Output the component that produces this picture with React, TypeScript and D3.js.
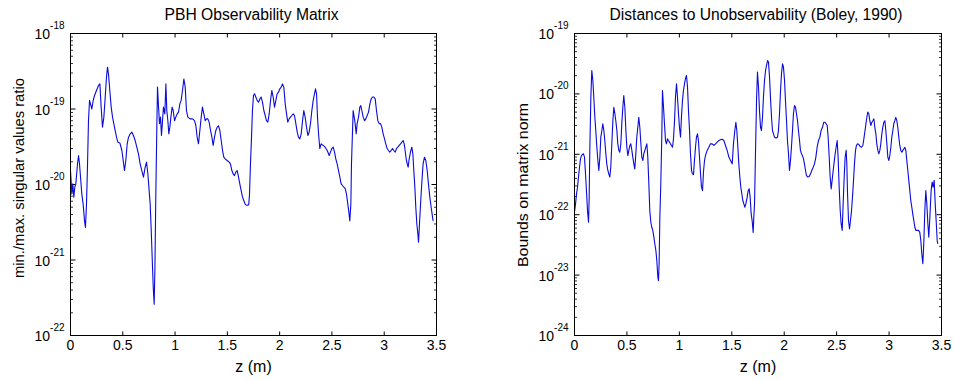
import React from "react";
import * as d3 from "d3";

// ---------- Data ----------
const leftTitle = "PBH Observability Matrix";
const rightTitle = "Distances to Unobservability (Boley, 1990)";
const xLabel = "z (m)";
const leftYLabel = "min./max. singular values ratio";
const rightYLabel = "Bounds on matrix norm";
const xTicks = [0, 0.5, 1, 1.5, 2, 2.5, 3, 3.5];
const leftDecades = [-22, -21, -20, -19, -18];
const rightDecades = [-24, -23, -22, -21, -20, -19];

const leftZ = [
  0, 0.013, 0.022, 0.032, 0.041, 0.051, 0.067, 0.077, 0.086, 0.096, 0.108, 0.121, 0.134, 0.143, 0.153, 0.163,
  0.172, 0.182, 0.191, 0.204, 0.217, 0.23, 0.242, 0.255, 0.268, 0.281, 0.293, 0.306, 0.319, 0.332, 0.344, 0.354,
  0.363, 0.376, 0.389, 0.402, 0.414, 0.427, 0.44, 0.453, 0.472, 0.491, 0.504, 0.516, 0.529, 0.542, 0.555, 0.571,
  0.587, 0.602, 0.618, 0.634, 0.65, 0.666, 0.682, 0.698, 0.714, 0.727, 0.74, 0.752, 0.762, 0.771, 0.781, 0.791,
  0.8, 0.807, 0.816, 0.826, 0.832, 0.842, 0.851, 0.861, 0.87, 0.88, 0.889, 0.902, 0.912, 0.921, 0.931, 0.94,
  0.95, 0.96, 0.972, 0.982, 0.995, 1.007, 1.02, 1.033, 1.046, 1.058, 1.071, 1.084, 1.097, 1.109, 1.122, 1.144,
  1.167, 1.186, 1.199, 1.211, 1.224, 1.237, 1.25, 1.262, 1.275, 1.288, 1.301, 1.313, 1.326, 1.339, 1.352, 1.364,
  1.377, 1.39, 1.403, 1.415, 1.428, 1.441, 1.454, 1.466, 1.479, 1.498, 1.517, 1.53, 1.543, 1.556, 1.568, 1.581,
  1.594, 1.607, 1.619, 1.632, 1.645, 1.658, 1.67, 1.683, 1.696, 1.705, 1.712, 1.721, 1.731, 1.74, 1.75, 1.76,
  1.772, 1.785, 1.798, 1.811, 1.823, 1.836, 1.849, 1.862, 1.874, 1.887, 1.9, 1.913, 1.925, 1.938, 1.951, 1.964,
  1.976, 1.989, 2.002, 2.015, 2.027, 2.04, 2.053, 2.066, 2.078, 2.091, 2.104, 2.117, 2.129, 2.142, 2.155, 2.168,
  2.18, 2.193, 2.206, 2.219, 2.231, 2.244, 2.257, 2.27, 2.282, 2.295, 2.308, 2.321, 2.333, 2.343, 2.353, 2.362,
  2.372, 2.384, 2.397, 2.416, 2.435, 2.455, 2.474, 2.486, 2.499, 2.512, 2.525, 2.537, 2.55, 2.563, 2.576, 2.588,
  2.601, 2.614, 2.627, 2.639, 2.652, 2.662, 2.671, 2.681, 2.687, 2.697, 2.703, 2.713, 2.722, 2.732, 2.741, 2.754,
  2.767, 2.776, 2.786, 2.799, 2.812, 2.824, 2.837, 2.85, 2.863, 2.875, 2.888, 2.901, 2.914, 2.926, 2.939, 2.952,
  2.965, 2.977, 2.99, 3.003, 3.015, 3.028, 3.041, 3.054, 3.066, 3.079, 3.092, 3.105, 3.118, 3.13, 3.143, 3.156,
  3.169, 3.181, 3.191, 3.2, 3.21, 3.22, 3.229, 3.239, 3.251, 3.264, 3.274, 3.283, 3.293, 3.302, 3.312, 3.322,
  3.328, 3.334, 3.344, 3.353, 3.363, 3.372, 3.385, 3.398, 3.411, 3.423, 3.436, 3.449, 3.462, 3.468,
];
const leftRatio = [
  1.53e-20, 7.5e-21, 1.02e-20, 6.8e-21, 9.2e-21, 1.02e-20, 1.88e-20, 2.42e-20, 1.88e-20, 1.25e-20, 7.5e-21, 5.5e-21, 3.3e-21, 2.7e-21, 5.5e-21, 1.88e-20,
  7.0e-20, 1.3e-19, 1.17e-19, 1.0e-19, 1.3e-19, 1.51e-19, 1.67e-19, 1.85e-19, 2.05e-19, 2.15e-19, 1.06e-19, 5.75e-20, 7.8e-20, 1.44e-19, 2.64e-19, 3.58e-19,
  2.92e-19, 1.76e-19, 1.06e-19, 7.8e-20, 6.4e-20, 5.2e-20, 4.24e-20, 3.64e-20, 3.55e-20, 2.82e-20, 2.08e-20, 1.53e-20, 2.08e-20, 3.46e-20, 4.24e-20, 4.69e-20,
  4.93e-20, 4.46e-20, 3.83e-20, 3.12e-20, 2.55e-20, 1.88e-20, 1.53e-20, 1.25e-20, 1.7e-20, 1.98e-20, 1.38e-20, 8.3e-21, 5.5e-21, 2.7e-21, 1.09e-21, 4.4e-22,
  2.6e-22, 7.3e-22, 7.5e-21, 6.4e-20, 1.95e-19, 1.06e-19, 6.4e-20, 7.8e-20, 4.46e-20, 7.0e-20, 1.06e-19, 8.6e-20, 2.15e-19, 9.55e-20, 7.0e-20, 4.69e-20,
  5.75e-20, 7.8e-20, 1.06e-19, 9.55e-20, 7.0e-20, 7.8e-20, 8.6e-20, 9.1e-20, 1.17e-19, 1.3e-19, 1.76e-19, 2.5e-19, 1.95e-19, 9.55e-20, 7.8e-20, 7.4e-20,
  7.4e-20, 7.0e-20, 6.0e-20, 4.24e-20, 3.46e-20, 5.2e-20, 7.8e-20, 1.06e-19, 8.6e-20, 7.0e-20, 7.4e-20, 7.4e-20, 6.7e-20, 5.2e-20, 4.24e-20, 3.29e-20,
  4.24e-20, 5.2e-20, 5.75e-20, 6.0e-20, 5.2e-20, 3.83e-20, 2.82e-20, 2.3e-20, 2.19e-20, 2.08e-20, 1.98e-20, 1.88e-20, 1.53e-20, 1.38e-20, 1.31e-20, 1.46e-20,
  1.53e-20, 1.25e-20, 1.02e-20, 8.3e-21, 6.8e-21, 6.1e-21, 5.5e-21, 5.3e-21, 5.3e-21, 5.5e-21, 7.5e-21, 1.88e-20, 4.24e-20, 9.55e-20, 1.51e-19, 1.59e-19,
  1.44e-19, 1.3e-19, 1.23e-19, 1.36e-19, 1.44e-19, 1.23e-19, 9.55e-20, 8.2e-20, 7.0e-20, 6.7e-20, 8.6e-20, 1.3e-19, 1.76e-19, 1.44e-19, 1.06e-19, 1.3e-19,
  1.59e-19, 1.67e-19, 1.85e-19, 1.95e-19, 2.15e-19, 1.95e-19, 1.17e-19, 8.6e-20, 6.7e-20, 7.4e-20, 7.8e-20, 8.2e-20, 8.6e-20, 8.2e-20, 6.4e-20, 4.93e-20,
  4.24e-20, 4.03e-20, 4.69e-20, 7.0e-20, 9.55e-20, 7.8e-20, 5.75e-20, 4.46e-20, 4.93e-20, 6.4e-20, 9.55e-20, 1.3e-19, 1.59e-19, 1.85e-19, 1.59e-19, 7.8e-20,
  4.69e-20, 3.0e-20, 3.46e-20, 3.29e-20, 3.12e-20, 2.82e-20, 2.42e-20, 2.68e-20, 3.0e-20, 3.12e-20, 2.68e-20, 2.19e-20, 1.88e-20, 1.53e-20, 1.25e-20, 1.02e-20,
  9.7e-21, 9.2e-21, 8.8e-21, 7.5e-21, 5.5e-21, 4.3e-21, 3.3e-21, 5.5e-21, 1.88e-20, 5.2e-20, 9.55e-20, 7.8e-20, 6.4e-20, 4.69e-20, 6.4e-20, 7.8e-20,
  1.06e-19, 1.11e-19, 9.55e-20, 7.8e-20, 7.0e-20, 7.4e-20, 8.2e-20, 9.1e-20, 1.17e-19, 1.36e-19, 1.44e-19, 1.44e-19, 1.36e-19, 9.55e-20, 7.0e-20, 6.4e-20,
  6.4e-20, 5.75e-20, 4.69e-20, 4.03e-20, 3.46e-20, 3.0e-20, 2.82e-20, 2.68e-20, 2.82e-20, 3.0e-20, 2.82e-20, 2.68e-20, 3.0e-20, 3.12e-20, 3.29e-20, 3.46e-20,
  3.64e-20, 3.83e-20, 3.46e-20, 2.82e-20, 2.19e-20, 1.88e-20, 1.7e-20, 2.19e-20, 2.68e-20, 3.12e-20, 2.55e-20, 1.53e-20, 9.2e-21, 5.0e-21, 3.0e-21, 2.22e-21,
  1.72e-21, 2.46e-21, 4.5e-21, 7.5e-21, 1.25e-20, 1.88e-20, 2.3e-20, 2.08e-20, 1.53e-20, 1.02e-20, 6.8e-21, 5.0e-21, 3.7e-21, 3.3e-21,
];

const rightZ = [
  0, 0.01, 0.019, 0.029, 0.038, 0.048, 0.057, 0.067, 0.076, 0.086, 0.095, 0.105, 0.114, 0.124, 0.134, 0.14,
  0.146, 0.156, 0.165, 0.175, 0.184, 0.194, 0.203, 0.213, 0.223, 0.232, 0.242, 0.251, 0.261, 0.27, 0.28, 0.289,
  0.299, 0.308, 0.318, 0.327, 0.337, 0.346, 0.356, 0.366, 0.375, 0.385, 0.394, 0.404, 0.413, 0.423, 0.432, 0.442,
  0.451, 0.461, 0.47, 0.48, 0.49, 0.499, 0.509, 0.518, 0.528, 0.537, 0.547, 0.556, 0.566, 0.575, 0.585, 0.594,
  0.604, 0.613, 0.623, 0.633, 0.642, 0.652, 0.661, 0.671, 0.68, 0.69, 0.699, 0.709, 0.718, 0.728, 0.737, 0.747,
  0.757, 0.766, 0.776, 0.785, 0.795, 0.801, 0.807, 0.814, 0.823, 0.833, 0.839, 0.849, 0.858, 0.868, 0.877, 0.887,
  0.896, 0.906, 0.915, 0.925, 0.935, 0.944, 0.954, 0.963, 0.973, 0.982, 0.992, 1.001, 1.011, 1.02, 1.03, 1.039,
  1.049, 1.058, 1.068, 1.078, 1.087, 1.097, 1.106, 1.116, 1.125, 1.135, 1.144, 1.154, 1.163, 1.173, 1.182, 1.192,
  1.202, 1.211, 1.221, 1.23, 1.24, 1.249, 1.265, 1.281, 1.297, 1.313, 1.329, 1.345, 1.361, 1.376, 1.392, 1.408,
  1.424, 1.44, 1.456, 1.472, 1.488, 1.504, 1.516, 1.529, 1.539, 1.548, 1.558, 1.567, 1.577, 1.586, 1.596, 1.605,
  1.615, 1.624, 1.634, 1.647, 1.656, 1.666, 1.675, 1.685, 1.694, 1.704, 1.71, 1.717, 1.726, 1.736, 1.745, 1.755,
  1.764, 1.774, 1.783, 1.793, 1.802, 1.812, 1.822, 1.831, 1.841, 1.85, 1.86, 1.869, 1.879, 1.888, 1.898, 1.907,
  1.917, 1.926, 1.936, 1.945, 1.955, 1.965, 1.974, 1.984, 1.993, 2.003, 2.012, 2.022, 2.031, 2.041, 2.05, 2.06,
  2.069, 2.079, 2.088, 2.098, 2.108, 2.117, 2.127, 2.136, 2.146, 2.155, 2.165, 2.174, 2.184, 2.193, 2.203, 2.212,
  2.225, 2.238, 2.251, 2.263, 2.276, 2.289, 2.302, 2.314, 2.327, 2.34, 2.352, 2.365, 2.378, 2.39, 2.41, 2.419,
  2.429, 2.438, 2.448, 2.457, 2.467, 2.476, 2.486, 2.495, 2.505, 2.514, 2.524, 2.534, 2.543, 2.553, 2.562, 2.572,
  2.581, 2.591, 2.597, 2.603, 2.613, 2.623, 2.632, 2.642, 2.651, 2.661, 2.67, 2.68, 2.689, 2.699, 2.712, 2.724,
  2.737, 2.75, 2.762, 2.775, 2.788, 2.797, 2.807, 2.816, 2.826, 2.836, 2.845, 2.855, 2.864, 2.874, 2.883, 2.893,
  2.902, 2.912, 2.921, 2.931, 2.94, 2.95, 2.96, 2.969, 2.979, 2.988, 2.998, 3.007, 3.017, 3.026, 3.036, 3.045,
  3.055, 3.064, 3.074, 3.083, 3.093, 3.102, 3.112, 3.122, 3.131, 3.141, 3.15, 3.16, 3.169, 3.179, 3.188, 3.198,
  3.207, 3.217, 3.226, 3.236, 3.246, 3.255, 3.268, 3.281, 3.293, 3.303, 3.312, 3.322, 3.331, 3.341, 3.35, 3.36,
  3.37, 3.379, 3.389, 3.401, 3.411, 3.42, 3.43, 3.44, 3.449, 3.459, 3.465,
];
const rightBound = [
  1.1e-22, 1.51e-22, 2.2e-22, 2.86e-22, 4.2e-22, 6.1e-22, 8.4e-22, 9.6e-22, 9.9e-22, 1.02e-21, 9.0e-22, 4.75e-22, 2.5e-22, 1.17e-22, 7.5e-23, 1.95e-22,
  1.16e-21, 8.8e-21, 2.44e-20, 1.67e-20, 8.8e-21, 4.1e-21, 2.48e-21, 1.31e-21, 7.9e-22, 5.4e-22, 9.0e-22, 1.92e-21, 2.48e-21, 3.2e-21, 2.48e-21, 1.69e-21,
  1.02e-21, 6.95e-22, 5.4e-22, 4.75e-22, 4.2e-22, 6.1e-22, 1.49e-21, 3.6e-21, 6.0e-21, 4.7e-21, 3.6e-21, 2.48e-21, 1.49e-21, 1.16e-21, 1.08e-21, 1.49e-21,
  3.2e-21, 6.0e-21, 9.4e-21, 6.0e-21, 2.48e-21, 1.31e-21, 9.5e-22, 1.16e-21, 1.4e-21, 1.49e-21, 1.16e-21, 9.0e-22, 6.95e-22, 5.7e-22, 1.02e-21, 1.92e-21,
  2.8e-21, 4.1e-21, 2.8e-21, 1.49e-21, 9.0e-22, 7.9e-22, 1.02e-21, 1.16e-21, 1.31e-21, 1.49e-21, 9.0e-22, 3.24e-22, 1.17e-22, 7.5e-23, 6.2e-23, 5.5e-23,
  4.25e-23, 3.3e-23, 2.55e-23, 1.75e-23, 9.2e-24, 8.1e-24, 1.54e-23, 9.1e-23, 3.24e-22, 2.18e-21, 1.14e-20, 6.0e-21, 3.2e-21, 1.69e-21, 1.49e-21, 1.8e-21,
  1.69e-21, 1.59e-21, 1.49e-21, 1.4e-21, 1.31e-21, 1.8e-21, 3.6e-21, 8.8e-21, 1.47e-20, 8.8e-21, 4.7e-21, 2.8e-21, 1.92e-21, 4.1e-21, 7.8e-21, 1.14e-20,
  1.47e-20, 1.78e-20, 2.02e-20, 1.29e-20, 5.3e-21, 2.48e-21, 1.02e-21, 5.4e-22, 4.75e-22, 4.6e-22, 7.9e-22, 1.31e-21, 1.92e-21, 2.18e-21, 1.69e-21, 9.0e-22,
  4.75e-22, 2.86e-22, 2.5e-22, 5.1e-22, 7.9e-22, 9.5e-22, 1.16e-21, 1.31e-21, 1.49e-21, 1.49e-21, 1.4e-21, 1.49e-21, 1.59e-21, 1.69e-21, 1.74e-21, 1.78e-21,
  1.69e-21, 1.4e-21, 1.16e-21, 9.0e-22, 7.9e-22, 6.95e-22, 1.49e-21, 2.48e-21, 3.4e-21, 2.48e-21, 1.31e-21, 6.95e-22, 4.2e-22, 2.86e-22, 2.2e-22, 1.72e-22,
  1.51e-22, 1.33e-22, 1.51e-22, 1.95e-22, 2.5e-22, 2.68e-22, 1.95e-22, 1.03e-22, 8.0e-23, 5.1e-23, 9.1e-23, 1.51e-22, 1.02e-21, 7.8e-21, 2.29e-20, 1.29e-20,
  5.3e-21, 2.8e-21, 2.48e-21, 4.1e-21, 8.8e-21, 1.67e-20, 2.44e-20, 2.95e-20, 3.57e-20, 3.36e-20, 1.89e-20, 8.8e-21, 4.1e-21, 2.48e-21, 2.18e-21, 1.92e-21,
  1.87e-21, 1.87e-21, 1.92e-21, 2.48e-21, 4.7e-21, 1.14e-20, 2.15e-20, 3.15e-20, 2.77e-20, 1.67e-20, 7.8e-21, 3.6e-21, 1.69e-21, 1.02e-21, 5.4e-22, 7.9e-22,
  1.31e-21, 2.48e-21, 4.7e-21, 6.4e-21, 6.0e-21, 4.7e-21, 3.6e-21, 2.48e-21, 1.69e-21, 1.16e-21, 1.02e-21, 9.5e-22, 8.4e-22, 6.95e-22, 5.4e-22, 4.46e-22,
  4.2e-22, 4.3e-22, 4.75e-22, 5.4e-22, 6.1e-22, 6.95e-22, 9.0e-22, 1.31e-21, 1.69e-21, 1.92e-21, 2.48e-21, 2.8e-21, 3.4e-21, 3.4e-21, 3.0e-21, 1.92e-21,
  9.0e-22, 4.2e-22, 2.68e-22, 3.7e-22, 5.4e-22, 7.4e-22, 1.02e-21, 1.31e-21, 1.69e-21, 9.0e-22, 2.86e-22, 1.17e-22, 7.1e-23, 5.5e-23, 1.51e-22, 4.2e-22,
  9.0e-22, 1.16e-21, 6.95e-22, 2.5e-22, 8.0e-23, 5.8e-23, 8.0e-23, 1.17e-22, 1.95e-22, 3.7e-22, 6.95e-22, 1.16e-21, 1.4e-21, 1.49e-21, 1.45e-21, 1.35e-21,
  1.31e-21, 1.4e-21, 1.92e-21, 2.8e-21, 4.1e-21, 5.0e-21, 4.7e-21, 3.6e-21, 3.0e-21, 3.4e-21, 3.6e-21, 3.86e-21, 2.8e-21, 2.18e-21, 1.49e-21, 1.16e-21,
  1.02e-21, 1.16e-21, 1.49e-21, 2.18e-21, 2.8e-21, 3.4e-21, 3.6e-21, 2.48e-21, 1.49e-21, 9.0e-22, 7.9e-22, 9.5e-22, 1.31e-21, 1.92e-21, 2.48e-21, 3.2e-21,
  3.6e-21, 4.1e-21, 3.6e-21, 2.8e-21, 1.92e-21, 1.4e-21, 1.16e-21, 1.08e-21, 1.16e-21, 1.23e-21, 1.31e-21, 1.16e-21, 7.9e-22, 5.4e-22, 3.7e-22, 2.5e-22,
  1.72e-22, 1.33e-22, 1.03e-22, 8.0e-23, 6.2e-23, 5.5e-23, 5.5e-23, 5.5e-23, 5.1e-23, 3.7e-23, 2.25e-23, 1.54e-23, 3.3e-23, 1.17e-22, 2.5e-22, 1.51e-22,
  7.1e-23, 4.25e-23, 9.1e-23, 2.5e-22, 3.46e-22, 2.86e-22, 3.7e-22, 1.51e-22, 8.0e-23, 3.7e-23, 3.3e-23,
];

// ---------- Layout ----------
const W = 955;
const H = 381;
const FONT = "Arial, 'Liberation Sans', Helvetica, sans-serif";
const LINE_COLOR = "#0a0adc";

type PanelProps = {
  left: number;
  right: number;
  top: number;
  bottom: number;
  decades: number[];
  z: number[];
  v: number[];
  title: string;
  titleWidth: number;
  yLabel: string;
  yLabelWidth: number;
  yLabelX: number;
  yLabelY: number;
};

function Panel(p: PanelProps) {
  const x = d3.scaleLinear().domain([0, 3.5]).range([p.left, p.right]);
  const yMin = Math.pow(10, p.decades[0]);
  const yMax = Math.pow(10, p.decades[p.decades.length - 1]);
  const y = d3.scaleLog().domain([yMin, yMax]).range([p.bottom, p.top]);
  const pts: [number, number][] = p.z.map((zz, i) => [zz, p.v[i]]);
  const line = d3
    .line<[number, number]>()
    .x((d) => x(d[0]))
    .y((d) => y(d[1]));

  const minor: number[] = [];
  for (let k = 0; k < p.decades.length - 1; k++) {
    const base = Math.pow(10, p.decades[k]);
    for (let m = 2; m <= 9; m++) minor.push(base * m);
  }
  const majorLen = 4;
  const minorLen = 2.5;
  const cx = (p.left + p.right) / 2;

  return (
    <g>
      {xTicks.map((t) => (
        <g key={"xt" + t}>
          <line x1={x(t)} x2={x(t)} y1={p.bottom} y2={p.bottom - majorLen} stroke="#000" />
          <line x1={x(t)} x2={x(t)} y1={p.top} y2={p.top + majorLen} stroke="#000" />
          <text x={x(t)} y={p.bottom + 14} textAnchor="middle" fontSize={14} fontFamily={FONT} fill="#000">
            {String(t)}
          </text>
        </g>
      ))}
      {p.decades.map((e) => {
        const yy = y(Math.pow(10, e));
        return (
          <g key={"yt" + e}>
            <line x1={p.left} x2={p.left + majorLen + 1} y1={yy} y2={yy} stroke="#000" />
            <line x1={p.right} x2={p.right - majorLen - 1} y1={yy} y2={yy} stroke="#000" />
            <text x={p.left - 6} y={yy + 5.5} textAnchor="end" fontFamily={FONT} fill="#000">
              <tspan fontSize={14}>10</tspan>
              <tspan fontSize={10} dy={-10}>
                {String(e)}
              </tspan>
            </text>
          </g>
        );
      })}
      {minor.map((m, i) => {
        const yy = y(m);
        return (
          <g key={"ym" + i}>
            <line x1={p.left} x2={p.left + minorLen} y1={yy} y2={yy} stroke="#000" strokeWidth={0.8} />
            <line x1={p.right} x2={p.right - minorLen} y1={yy} y2={yy} stroke="#000" strokeWidth={0.8} />
          </g>
        );
      })}
      <path d={line(pts) || ""} fill="none" stroke={LINE_COLOR} strokeWidth={1.1} strokeLinejoin="round" />
      <rect x={p.left} y={p.top} width={p.right - p.left} height={p.bottom - p.top} fill="none" stroke="#000" strokeWidth={1} />
      <text
        x={cx - 2}
        y={19.5}
        textAnchor="middle"
        fontSize={16}
        fontFamily={FONT}
        fill="#000"
        textLength={p.titleWidth}
        lengthAdjust="spacingAndGlyphs"
      >
        {p.title}
      </text>
      <text x={cx} y={372} textAnchor="middle" fontSize={16} fontFamily={FONT} fill="#000">
        {xLabel}
      </text>
      <text
        transform={`translate(${p.yLabelX},${p.yLabelY}) rotate(-90)`}
        textAnchor="middle"
        fontSize={15}
        fontFamily={FONT}
        fill="#000"
        textLength={p.yLabelWidth}
        lengthAdjust="spacingAndGlyphs"
      >
        {p.yLabel}
      </text>
    </g>
  );
}

export default function App() {
  return (
    <svg
      width={W}
      height={H}
      viewBox={`0 0 ${W} ${H}`}
      style={{ position: "absolute", left: 0, top: 0, background: "#fff" }}
    >
      <rect x={0} y={0} width={W} height={H} fill="#fff" />
      <Panel
        left={70.5}
        right={436.5}
        top={33.5}
        bottom={335.5}
        decades={leftDecades}
        z={leftZ}
        v={leftRatio}
        title={leftTitle}
        titleWidth={174}
        yLabel={leftYLabel}
        yLabelWidth={200}
        yLabelX={24}
        yLabelY={178}
      />
      <Panel
        left={574.5}
        right={941.5}
        top={33.5}
        bottom={335.5}
        decades={rightDecades}
        z={rightZ}
        v={rightBound}
        title={rightTitle}
        titleWidth={293}
        yLabel={rightYLabel}
        yLabelWidth={164}
        yLabelX={528}
        yLabelY={185}
      />
    </svg>
  );
}
